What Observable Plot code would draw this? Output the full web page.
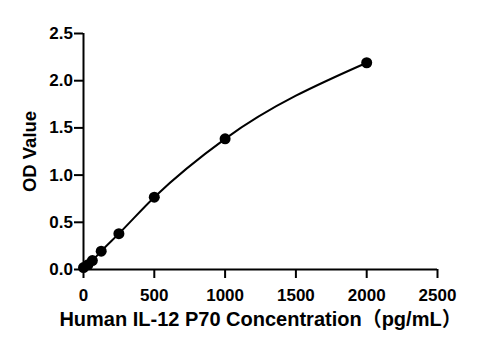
<!DOCTYPE html>
<html>
<head>
<meta charset="utf-8">
<script src="https://cdn.jsdelivr.net/npm/d3@7"></script>
<script src="https://cdn.jsdelivr.net/npm/@observablehq/plot@0.6"></script>
<style>
  html, body { margin: 0; padding: 0; background: #fff; }
  svg { font-family: "Liberation Sans", Arial, sans-serif; }
</style>
</head>
<body>
<div id="chart"></div>
<script>
const concentrations = [0, 31.25, 62.5, 125, 250, 500, 1000, 2000];
const odValues = [0.02, 0.05, 0.095, 0.194, 0.38, 0.766, 1.384, 2.19];
const xTicks = [0, 500, 1000, 1500, 2000, 2500];
const yTicks = [0, 0.5, 1.0, 1.5, 2.0, 2.5];
const xTitle = "Human IL-12 P70 Concentration（pg/mL）";
const yTitle = "OD Value";

const data = concentrations.map((c, i) => ({x: c, y: odValues[i]}));

const font = "'Liberation Sans', Arial, 'Noto Sans CJK SC', sans-serif";

const plot = Plot.plot({
  width: 492,
  height: 350,
  marginLeft: 83,
  marginRight: 55,
  marginTop: 33,
  marginBottom: 81,
  x: {domain: [0, 2500]},
  y: {domain: [0, 2.5]},
  style: {fontFamily: font, background: "#fff", color: "#000"},
  marks: [
    Plot.axisX({ticks: xTicks, tickSize: 9, tickPadding: 10, tickFormat: d => String(d), fontSize: 17, fontWeight: "bold", strokeWidth: 2, label: null}),
    Plot.axisY({ticks: yTicks, tickSize: 9, tickPadding: 1.5, tickFormat: d => d.toFixed(1), fontSize: 17, fontWeight: "bold", strokeWidth: 2, label: null}),
    Plot.ruleX([0], {strokeWidth: 2}),
    Plot.ruleY([0], {strokeWidth: 2}),
    Plot.line(data, {x: "x", y: "y", curve: "monotone-x", strokeWidth: 2, stroke: "#000"}),
    Plot.dot(data, {x: "x", y: "y", r: 5.5, fill: "#000", stroke: "none"}),
    Plot.text([xTitle], {frameAnchor: "bottom", textAnchor: "middle", dy: 56, lineAnchor: "bottom", fontSize: 20, fontWeight: "bold", fill: "#000"}),
    Plot.text([yTitle], {frameAnchor: "left", textAnchor: "middle", dx: -53, rotate: -90, fontSize: 18.5, fontWeight: "bold", fill: "#000"})
  ]
});
document.getElementById("chart").appendChild(plot);
</script>
</body>
</html>
